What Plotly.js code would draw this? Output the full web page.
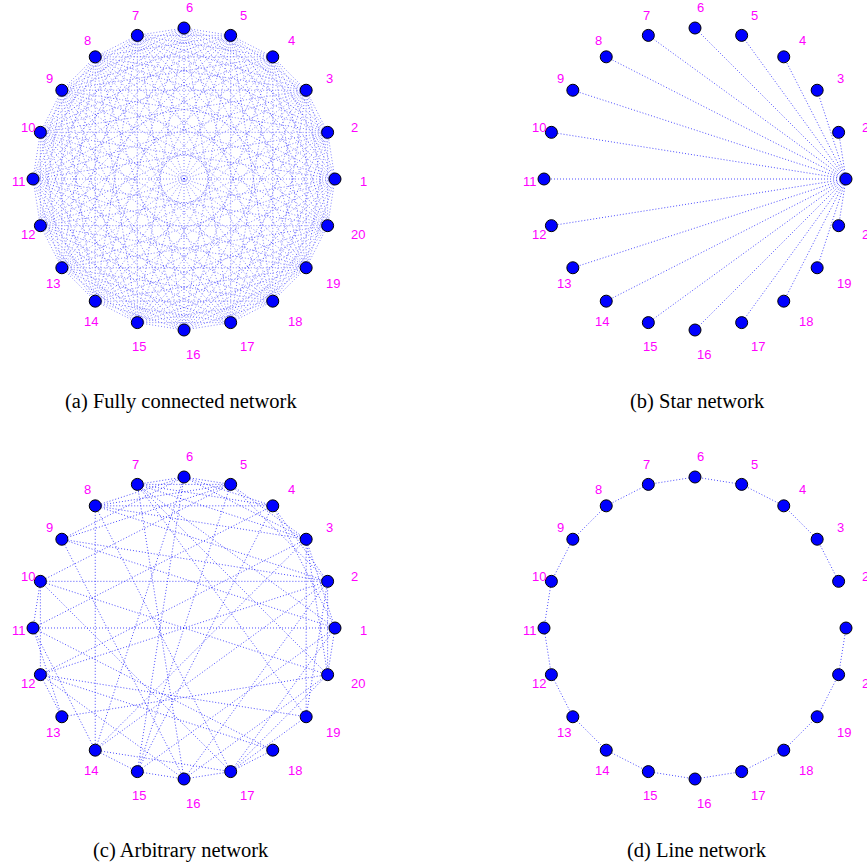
<!DOCTYPE html>
<html>
<head>
<meta charset="utf-8">
<script src="https://cdn.plot.ly/plotly-3.0.1.min.js"></script>
<style>html,body{margin:0;padding:0;background:#fff;}#chart{width:867px;height:863px;}</style>
</head>
<body>
<div id="chart"></div>
<script>
// ---------------- data ----------------
const nodeLabels = ['1','2','3','4','5','6','7','8','9','10','11','12','13','14','15','16','17','18','19','20'];

const panelCaptions = ['(a) Fully connected network', '(b) Star network', '(c) Arbitrary network', '(d) Line network'];

// star network: node 1 is the hub
const starEdges = [[1,2],[1,3],[1,4],[1,5],[1,6],[1,7],[1,8],[1,9],[1,10],[1,11],[1,12],[1,13],[1,14],[1,15],[1,16],[1,17],[1,18],[1,19],[1,20]];

// line network: path 2-3-...-20-1
const lineEdges = [[2,3],[3,4],[4,5],[5,6],[6,7],[7,8],[8,9],[9,10],[10,11],[11,12],[12,13],[13,14],[14,15],[15,16],[16,17],[17,18],[18,19],[19,20],[20,1]];

// arbitrary network (approximate)
const arbEdges = [
  [10,2],[11,1],[8,14],[8,4],[10,12],[2,20],[1,20],
  [6,7],[6,5],[7,5],[7,4],[6,4],[8,6],[8,5],[7,3],[6,3],[5,3],[5,2],[4,2],[4,1],[3,1],[3,20],
  [9,6],[9,5],[9,2],[9,16],
  [10,5],[10,17],[10,20],[10,11],
  [11,13],[12,13],[11,14],[11,4],[11,18],
  [12,18],[12,3],[12,19],[12,2],[12,16],
  [13,20],
  [14,15],[14,3],[14,2],[14,6],[14,17],
  [15,16],[15,5],[15,6],[15,1],[15,4],
  [16,17],[16,20],[16,2],[16,7],
  [17,18],[17,20],[17,1],[17,19],[17,8],
  [19,2],[19,3],[19,7],
  [1,7],[1,9],[2,8],[20,7],[3,8]
];

// fully connected network: every pair of nodes
const fullEdges = [];
for (let i = 1; i <= nodeLabels.length; i++) {
  for (let j = i + 1; j <= nodeLabels.length; j++) fullEdges.push([i, j]);
}

const networks = [fullEdges, starEdges, arbEdges, lineEdges];

// ---------------- layout helpers ----------------
const W = 867, H = 863, R = 151;            // pixels per unit radius
const centers = [[184,179],[695,179],[184,628],[695,628]];  // pixel centres (from top-left)
const nN = nodeLabels.length;
const nodeX = nodeLabels.map((_, k) => Math.cos(2*Math.PI*k/nN));
const nodeY = nodeLabels.map((_, k) => Math.sin(2*Math.PI*k/nN));

const traces = [];
const layout = {
  width: W, height: H,
  margin: {l:0, r:0, t:0, b:0},
  paper_bgcolor: '#ffffff', plot_bgcolor: 'rgba(0,0,0,0)',
  showlegend: false,
  annotations: []
};

networks.forEach((edges, p) => {
  const [cx, cy] = centers[p];
  const xr = [-1.2, Math.min(1.2, (W - cx) / R)];
  const yr = [-1.2, Math.min(1.2, (cy) / R)];
  const cyB = H - cy;
  const xd = [(cx + xr[0]*R) / W, (cx + xr[1]*R) / W];
  const yd = [(cyB + yr[0]*R) / H, (cyB + yr[1]*R) / H];
  const sfx = p === 0 ? '' : String(p + 1);
  const axCommon = {visible:false, showgrid:false, zeroline:false, fixedrange:true};
  layout['xaxis' + sfx] = Object.assign({range: xr, domain: [Math.max(0,xd[0]), Math.min(1,xd[1])], anchor: 'y' + sfx}, axCommon);
  layout['yaxis' + sfx] = Object.assign({range: yr, domain: [Math.max(0,yd[0]), Math.min(1,yd[1])], anchor: 'x' + sfx}, axCommon);

  const ex = [], ey = [];
  edges.forEach(([a, b]) => {
    ex.push(nodeX[a-1], nodeX[b-1], null);
    ey.push(nodeY[a-1], nodeY[b-1], null);
  });
  const dense = edges.length > 100;
  traces.push({
    type: 'scatter', mode: 'lines', x: ex, y: ey,
    xaxis: 'x' + sfx, yaxis: 'y' + sfx,
    line: {color: dense ? 'rgba(0,0,255,0.55)' : 'rgba(0,0,255,0.7)', width: dense ? 0.9 : 1, dash: '1px,2px'},
    hoverinfo: 'skip', cliponaxis: false
  });
  traces.push({
    type: 'scatter', mode: 'markers', x: nodeX, y: nodeY,
    xaxis: 'x' + sfx, yaxis: 'y' + sfx,
    marker: {size: 12, color: '#0000FF', line: {color: '#000000', width: 1}},
    text: nodeLabels, hoverinfo: 'text', cliponaxis: false
  });
  nodeLabels.forEach((lab, k) => {
    layout.annotations.push({
      xref: 'x' + sfx, yref: 'y' + sfx,
      x: 1.15 * nodeX[k], y: 1.15 * nodeY[k],
      text: lab, showarrow: false,
      xanchor: 'left', yanchor: 'middle', yshift: -2,
      font: {family: 'Liberation Sans, Arial, sans-serif', size: 13, color: '#FF00FF'}
    });
  });
  layout.annotations.push({
    xref: 'paper', yref: 'paper',
    x: (cx + (p % 2 === 0 ? -3 : 2)) / W, y: 1 - (cy + 222) / H,
    text: panelCaptions[p], showarrow: false,
    xanchor: 'center', yanchor: 'middle',
    font: {family: 'Liberation Serif, Times New Roman, serif', size: 20.5, color: '#000000'}
  });
});

Plotly.newPlot('chart', traces, layout, {displayModeBar: false, staticPlot: true});
</script>
</body>
</html>
